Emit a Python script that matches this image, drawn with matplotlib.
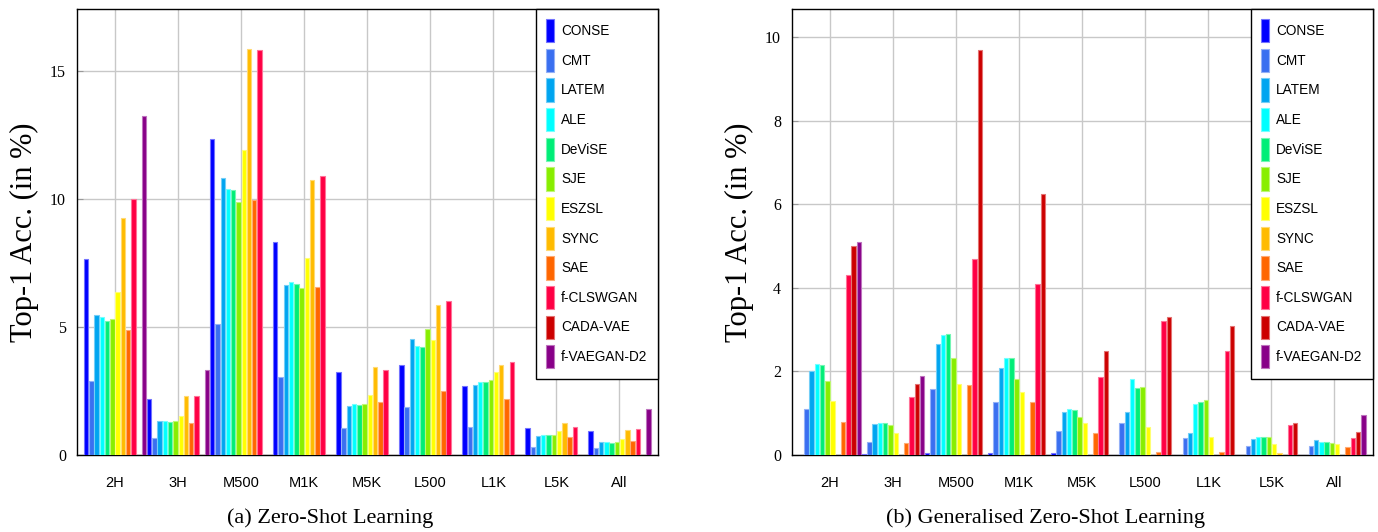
import matplotlib
matplotlib.use("Agg")
import matplotlib.pyplot as plt
import numpy as np
from matplotlib.colors import to_rgb

categories = ["2H", "3H", "M500", "M1K", "M5K", "L500", "L1K", "L5K", "All"]
methods = ["CONSE", "CMT", "LATEM", "ALE", "DeViSE", "SJE", "ESZSL", "SYNC",
           "SAE", "f-CLSWGAN", "CADA-VAE", "f-VAEGAN-D2"]
colors = ["#0000ff", "#3a6ff0", "#00a5f0", "#00ffff", "#00ee77", "#88ee00",
          "#ffff00", "#ffbb00", "#ff6600", "#ff0044", "#cc0000", "#880088"]

# (a) Zero-Shot Learning
zsl_conse = [7.64, 2.19, 12.33, 8.31, 3.23, 3.53, 2.68, 1.05, 0.95]
zsl_cmt = [2.89, 0.66, 5.12, 3.05, 1.04, 1.86, 1.08, 0.33, 0.29]
zsl_latem = [5.47, 1.32, 10.81, 6.63, 1.90, 4.53, 2.73, 0.76, 0.49]
zsl_ale = [5.38, 1.32, 10.40, 6.77, 1.99, 4.27, 2.85, 0.79, 0.49]
zsl_devise = [5.25, 1.29, 10.35, 6.68, 1.94, 4.22, 2.85, 0.77, 0.48]
zsl_sje = [5.30, 1.33, 9.88, 6.52, 1.98, 4.92, 2.93, 0.77, 0.51]
zsl_eszsl = [6.36, 1.51, 11.90, 7.68, 2.33, 4.49, 3.23, 0.92, 0.64]
zsl_sync = [9.26, 2.29, 15.85, 10.75, 3.42, 5.85, 3.50, 1.26, 0.96]
zsl_sae = [4.88, 1.26, 9.96, 6.58, 2.08, 2.50, 2.17, 0.72, 0.56]
zsl_fclswgan = [10.00, 2.29, 15.82, 10.91, 3.31, 6.00, 3.63, 1.10, 1.00]
zsl_cadavae = [0, 0, 0, 0, 0, 0, 0, 0, 0]
zsl_fvaegan = [13.23, 3.31, 0, 0, 0, 0, 0, 0, 1.81]

# (b) Generalised Zero-Shot Learning
gzsl_conse = [0, 0.02, 0.05, 0.05, 0.04, 0, 0, 0, 0]
gzsl_cmt = [1.10, 0.30, 1.58, 1.28, 0.57, 0.77, 0.41, 0.21, 0.22]
gzsl_latem = [2.00, 0.75, 2.65, 2.08, 1.02, 1.03, 0.53, 0.38, 0.37]
gzsl_ale = [2.18, 0.77, 2.88, 2.32, 1.10, 1.83, 1.22, 0.43, 0.32]
gzsl_devise = [2.15, 0.77, 2.90, 2.32, 1.08, 1.61, 1.27, 0.43, 0.30]
gzsl_sje = [1.78, 0.72, 2.32, 1.82, 0.92, 1.63, 1.32, 0.42, 0.29]
gzsl_eszsl = [1.30, 0.53, 1.70, 1.50, 0.76, 0.66, 0.42, 0.27, 0.27]
gzsl_sync = [0, 0, 0, 0, 0, 0, 0, 0.05, 0]
gzsl_sae = [0.78, 0.28, 1.68, 1.28, 0.53, 0.06, 0.06, 0, 0.19]
gzsl_fclswgan = [4.30, 1.40, 4.70, 4.10, 1.86, 3.20, 2.50, 0.71, 0.41]
gzsl_cadavae = [5.00, 1.70, 9.70, 6.25, 2.50, 3.30, 3.10, 0.76, 0.55]
gzsl_fvaegan = [5.10, 1.90, 0, 0, 0, 0, 0, 0, 0.96]

zsl = [zsl_conse, zsl_cmt, zsl_latem, zsl_ale, zsl_devise, zsl_sje, zsl_eszsl,
       zsl_sync, zsl_sae, zsl_fclswgan, zsl_cadavae, zsl_fvaegan]
gzsl = [gzsl_conse, gzsl_cmt, gzsl_latem, gzsl_ale, gzsl_devise, gzsl_sje,
        gzsl_eszsl, gzsl_sync, gzsl_sae, gzsl_fclswgan, gzsl_cadavae, gzsl_fvaegan]

W, H = 1378, 532
fig = plt.figure(figsize=(W / 100, H / 100), dpi=100)

SANS = ["Liberation Sans Narrow", "Liberation Sans", "DejaVu Sans"]
SERIF = ["Liberation Serif", "DejaVu Serif"]


def lighten(c, f=0.5):
    r, g, b = to_rgb(c)
    return (r + (1 - r) * f, g + (1 - g) * f, b + (1 - b) * f)


def draw(ax, data, ymax, yticks, caption, cap_x):
    n = len(methods)
    x = np.arange(len(categories))
    pitch = 1.0 / n
    for i, (name, vals, col) in enumerate(zip(methods, data, colors)):
        ax.bar(x + (i - (n - 1) / 2) * pitch, vals, width=pitch * 0.84,
               color=col, edgecolor=lighten(col, 0.45), linewidth=0.8,
               label=name, zorder=3)
    ax.set_xlim(-0.603, len(categories) - 1 + 0.603)
    ax.set_ylim(0, ymax)
    ax.set_xticks(x)
    ax.set_xticklabels(categories, family=SANS, fontsize=10.5)
    ax.set_yticks(yticks)
    ax.set_yticklabels([str(t) for t in yticks], family=SERIF, fontsize=11.5)
    ax.tick_params(axis="x", length=0, pad=15)
    ax.tick_params(axis="y", direction="in", length=4, color="#999999", pad=8)
    ax.grid(True, color="#c8c8c8", linewidth=1.0, zorder=0)
    ax.set_axisbelow(True)
    for s in ax.spines.values():
        s.set_linewidth(1.0)
        s.set_color("black")
    ax.set_ylabel("Top-1 Acc. (in %)", family=SERIF, fontsize=22, labelpad=8)
    leg = ax.legend(loc="upper right", bbox_to_anchor=(1.0, 1.0),
                    borderaxespad=0.0, fancybox=False, framealpha=1,
                    edgecolor="black", prop={"family": SANS[1:], "size": 9.8},
                    handlelength=0.62, handleheight=2.25, labelspacing=0.47,
                    handletextpad=0.5, borderpad=0.75)
    leg.get_frame().set_linewidth(1.0)
    fig.text(cap_x, 1 - 518 / H, caption, family=SERIF, fontsize=16,
             ha="center", va="center")


axL = fig.add_axes([77 / W, 1 - 455 / H, 580.5 / W, 446 / H])
axR = fig.add_axes([792 / W, 1 - 455 / H, 580.5 / W, 446 / H])
draw(axL, zsl, 17.42, [0, 5, 10, 15], "(a) Zero-Shot Learning", 330 / W)
draw(axR, gzsl, 10.68, [0, 2, 4, 6, 8, 10], "(b) Generalised Zero-Shot Learning", 1045 / W)

fig.savefig("out.png", dpi=100)
